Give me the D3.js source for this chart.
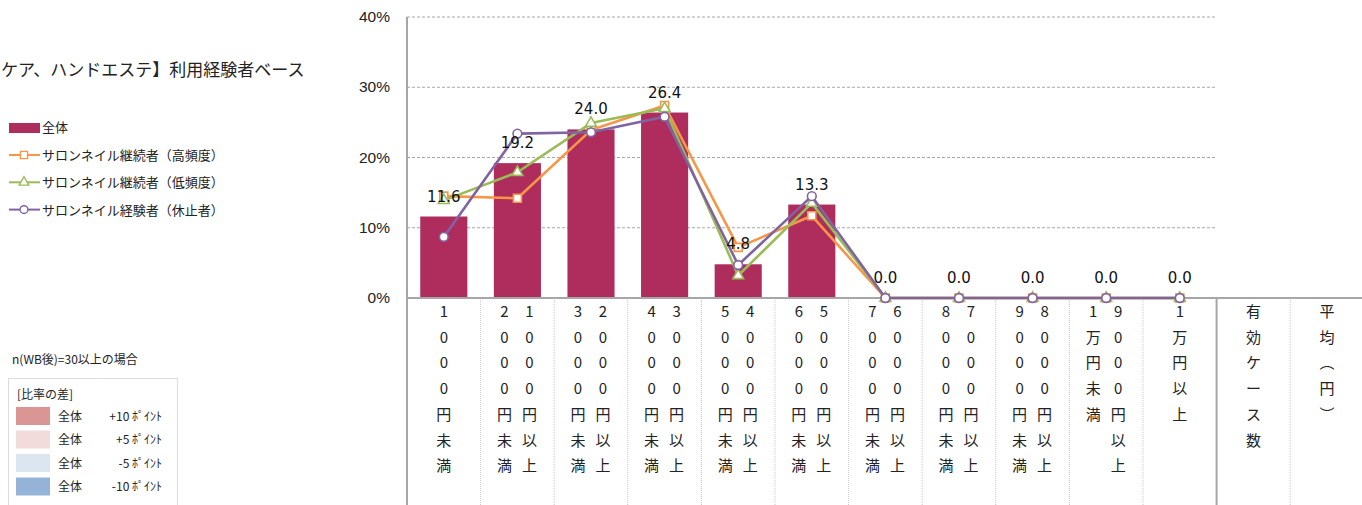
<!DOCTYPE html>
<html><head><meta charset="utf-8">
<script src="https://cdn.jsdelivr.net/npm/d3@7"></script>
<style>
html,body{margin:0;padding:0;background:#fff;overflow:hidden}
svg{display:block}
</style></head>
<body>
<svg id="c" width="1362" height="505"></svg>
<script>
// ---------- DATA ----------
const categories = ["1000円未満","1000円以上2000円未満","2000円以上3000円未満","3000円以上4000円未満",
  "4000円以上5000円未満","5000円以上6000円未満","6000円以上7000円未満","7000円以上8000円未満",
  "8000円以上9000円未満","9000円以上1万円未満","1万円以上","有効ケース数","平均（円）"];
const barName = "全体";
const barValues = [11.6, 19.2, 24.0, 26.4, 4.8, 13.3, 0.0, 0.0, 0.0, 0.0, 0.0];
const seriesNames = ["サロンネイル継続者（高頻度）","サロンネイル継続者（低頻度）","サロンネイル経験者（休止者）"];
const highFreq = [14.5, 14.2, 23.9, 27.4, 7.2, 11.7, 0, 0, 0, 0, 0];
const lowFreq  = [13.9, 17.9, 24.9, 27.0, 3.2, 13.5, 0, 0, 0, 0, 0];
const paused   = [8.7, 23.4, 23.6, 25.8, 4.7, 14.5, 0, 0, 0, 0, 0];
const yTicks = [0, 10, 20, 30, 40];
const titleText = "ケア、ハンドエステ】利用経験者ベース";
const noteText = "n(WB後)=30以上の場合";
const diffTitle = "[比率の差]";
const diffLabels = ["+10 ﾎﾟｲﾝﾄ","+5 ﾎﾟｲﾝﾄ","-5 ﾎﾟｲﾝﾄ","-10 ﾎﾟｲﾝﾄ"];
const diffColors = ["#d99694","#f2dcdb","#dce6f1","#95b3d7"];

// ---------- STYLE ----------
const barColor = "#ae2d5d";
const lineColors = ["#f79646","#9bbb59","#8064a2"];
const markers = ["square","triangle","circle"];
const jp = "'Noto Sans CJK JP', sans-serif";

const svg = d3.select("#c");
const plotLeft = 407, plotTop = 17, plotBottom = 298, colW = 73.6;

const x = d3.scaleBand().domain(categories).range([plotLeft, plotLeft + colW * categories.length]).padding(0);
const y = d3.scaleLinear().domain([0, 40]).range([plotBottom, plotTop]);
const dataCats = categories.slice(0, barValues.length);
const gridRight = x(dataCats[dataCats.length - 1]) + x.bandwidth();

// gridlines
svg.append("g").selectAll("line").data(yTicks.filter(d => d > 0)).join("line")
  .attr("x1", plotLeft).attr("x2", gridRight).attr("y1", d => y(d)).attr("y2", d => y(d))
  .attr("stroke", "#a6a6a6").attr("stroke-width", 1).attr("stroke-dasharray", "3,2");

// y tick labels
svg.append("g").selectAll("text").data(yTicks).join("text")
  .attr("x", 390).attr("y", d => y(d) + 5).attr("text-anchor", "end")
  .attr("font-family", "'Liberation Sans Narrow','Arial Narrow',sans-serif").attr("font-size", 15.5)
  .attr("fill", "#222").text(d => d + "%");

// bars
const barW = x.bandwidth() * 0.64;
svg.append("g").selectAll("rect").data(barValues).join("rect")
  .attr("x", (d, i) => x(categories[i]) + (x.bandwidth() - barW) / 2)
  .attr("width", barW)
  .attr("y", d => y(d)).attr("height", d => plotBottom - y(d))
  .attr("fill", barColor);

// category dividers
const divs = categories.map((c, i) => i).slice(1);
svg.append("g").selectAll("line").data(divs).join("line")
  .attr("x1", i => x(categories[i])).attr("x2", i => x(categories[i]))
  .attr("y1", plotBottom).attr("y2", 505)
  .attr("stroke", i => i === barValues.length ? "#a6a6a6" : "#c8c8c8")
  .attr("stroke-width", i => i === barValues.length ? 2 : 1)
  .attr("stroke-dasharray", i => i === barValues.length ? null : "1,1");

// axes lines
svg.append("line").attr("x1", plotLeft).attr("x2", 1362).attr("y1", plotBottom).attr("y2", plotBottom)
  .attr("stroke", "#a6a6a6").attr("stroke-width", 2);
svg.append("line").attr("x1", plotLeft).attr("x2", plotLeft).attr("y1", plotTop).attr("y2", 505)
  .attr("stroke", "#a6a6a6").attr("stroke-width", 2);

// category labels (vertical stacked)
const vert = ch => ({"（": "︵", "）": "︶"}[ch] || ch);
const catG = svg.append("g").attr("font-family", jp).attr("font-size", 15).attr("fill", "#222");
categories.forEach(c => {
  const cx = x(c) + x.bandwidth() / 2;
  let cols;
  const k = c.indexOf("以上");
  if (k >= 0 && k + 2 < c.length) cols = [[c.slice(k + 2), -13], [c.slice(0, k + 2), 12]];
  else cols = [[c, 0]];
  cols.forEach(([s, dx]) => {
    Array.from(s).forEach((ch, j) => {
      catG.append("text").attr("x", cx + dx).attr("y", 317 + j * 25.7)
        .attr("text-anchor", "middle").text(vert(ch));
    });
  });
});

// lines
const lineGen = d3.line().x((d, i) => x(categories[i]) + x.bandwidth() / 2).y(d => y(d));
const allSeries = [highFreq, lowFreq, paused];
const sym = {square: d3.symbolSquare, triangle: d3.symbolTriangle, circle: d3.symbolCircle};
const symSize = {square: 64, triangle: 50, circle: 60};
allSeries.forEach((vals, si) => {
  const g = svg.append("g");
  g.append("path").datum(vals).attr("d", lineGen).attr("fill", "none")
    .attr("stroke", lineColors[si]).attr("stroke-width", 2.6).attr("stroke-linejoin", "round");
  g.selectAll("path.m").data(vals).join("path").attr("class", "m")
    .attr("transform", (d, i) => `translate(${x(categories[i]) + x.bandwidth() / 2},${y(d)})`)
    .attr("d", d3.symbol().type(sym[markers[si]]).size(symSize[markers[si]]))
    .attr("fill", "#fff").attr("stroke", lineColors[si]).attr("stroke-width", 1.6);
});

// bar data labels
svg.append("g").selectAll("text").data(barValues).join("text")
  .attr("x", (d, i) => x(categories[i]) + x.bandwidth() / 2)
  .attr("y", d => y(d) - 15).attr("text-anchor", "middle")
  .attr("font-family", "'DejaVu Sans',sans-serif").attr("font-size", 15).attr("fill", "#111")
  .text(d => d.toFixed(1));

// title
svg.append("text").attr("x", 1).attr("y", 76).attr("text-anchor", "start")
  .attr("font-family", jp).attr("font-size", 17).attr("fill", "#222").text(titleText);

// legend
const lg = svg.append("g").attr("font-family", jp).attr("font-size", 13).attr("fill", "#222");
lg.append("rect").attr("x", 9).attr("y", 123).attr("width", 31).attr("height", 10).attr("fill", barColor);
lg.append("text").attr("x", 42).attr("y", 132).text(barName);
seriesNames.forEach((n, i) => {
  const yy = 155 + i * 27.3;
  lg.append("line").attr("x1", 9).attr("x2", 40).attr("y1", yy).attr("y2", yy)
    .attr("stroke", lineColors[i]).attr("stroke-width", 2);
  lg.append("path").attr("transform", `translate(24,${yy})`)
    .attr("d", d3.symbol().type(sym[markers[i]]).size(symSize[markers[i]] * 0.8))
    .attr("fill", "#fff").attr("stroke", lineColors[i]).attr("stroke-width", 1.4);
  lg.append("text").attr("x", 42).attr("y", yy + 5).text(n);
});

// note + diff box
const nb = svg.append("g").attr("font-family", jp).attr("font-size", 12).attr("fill", "#222");
nb.append("text").attr("x", 12).attr("y", 364).text(noteText);
nb.append("rect").attr("x", 8.5).attr("y", 378.5).attr("width", 169).attr("height", 140)
  .attr("fill", "none").attr("stroke", "#bbb").attr("stroke-dasharray", "1,1");
nb.append("text").attr("x", 17).attr("y", 399).text(diffTitle);
diffLabels.forEach((l, i) => {
  const yy = 407 + i * 23.5;
  nb.append("rect").attr("x", 16).attr("y", yy).attr("width", 34).attr("height", 18).attr("fill", diffColors[i]);
  nb.append("text").attr("x", 58).attr("y", yy + 13.5).text(barName);
  nb.append("text").attr("x", 162).attr("y", yy + 13.5).attr("text-anchor", "end").text(l);
});
</script>
</body></html>
